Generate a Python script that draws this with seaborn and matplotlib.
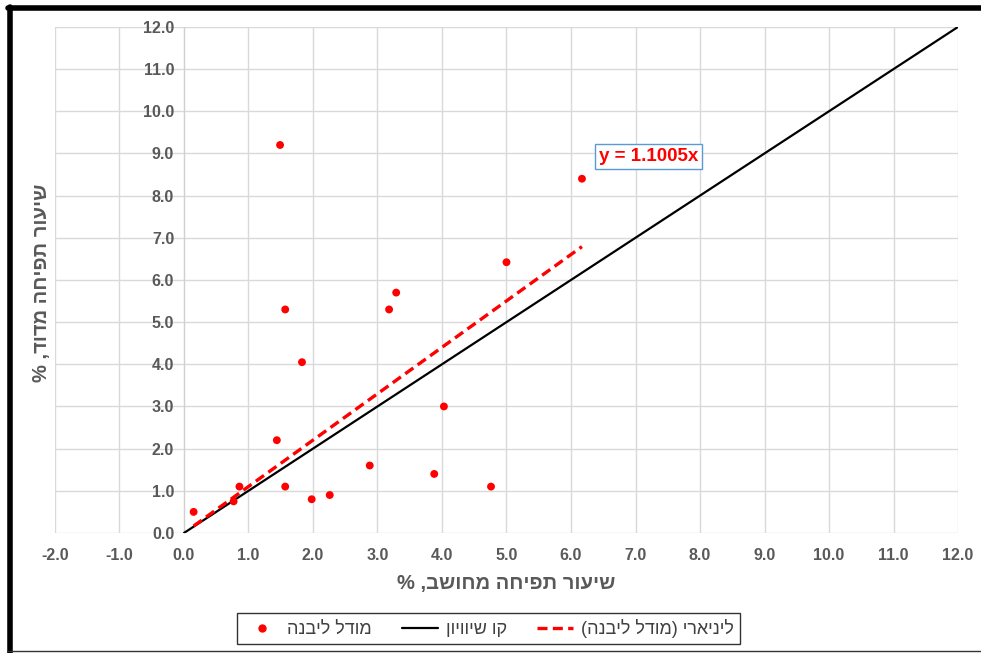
import numpy as np
import pandas as pd
import seaborn as sns
import matplotlib.pyplot as plt
from matplotlib.lines import Line2D

# -------------------------------
# Data
# -------------------------------
calc_rate = [0.15, 0.77, 0.86, 1.44, 1.49, 1.57, 1.57, 1.83, 1.98, 2.26,
             2.88, 3.18, 3.29, 3.88, 4.03, 4.76, 5.00, 6.17]
meas_rate = [0.50, 0.75, 1.10, 2.20, 9.20, 5.30, 1.10, 4.05, 0.80, 0.90,
             1.60, 5.30, 5.70, 1.40, 3.00, 1.10, 6.42, 8.40]
slope = 1.1005
equality_x = [0.0, 12.0]
x_ticks = np.arange(-2, 13, 1)
y_ticks = np.arange(0, 13, 1)

# Hebrew strings written in visual (left-to-right) order
x_title = "% ,בשוחמ החיפת רועיש"
y_title = "% ,דודמ החיפת רועיש"
lbl_points = "הנביל לדומ"
lbl_equal = "ןויוויש וק"
lbl_trend = "(הנביל לדומ) יראיניל"

df = pd.DataFrame({"x": calc_rate, "y": meas_rate})
trend_x = np.array([min(calc_rate), max(calc_rate)])

# -------------------------------
# Figure
# -------------------------------
sns.set_style("white")
plt.rcParams["font.family"] = ["Liberation Sans", "DejaVu Sans"]

fig = plt.figure(figsize=(9.81, 6.53), dpi=100)
ax = fig.add_axes([0.056, 0.1838, 0.9206, 0.775])

ax.plot(equality_x, equality_x, color="black", lw=1.6, zorder=3)
ax.plot(trend_x, slope * trend_x, color="#FF0000", lw=2.4,
        ls=(0, (3, 1.6)), zorder=3)
sns.scatterplot(data=df, x="x", y="y", ax=ax, color="#FF0000", s=32,
                edgecolor="none", zorder=4, legend=False)

ax.set_xlim(-2, 12)
ax.set_ylim(0, 12)
ax.set_xticks(x_ticks)
ax.set_yticks(y_ticks)
ax.set_xticklabels([f"{v:.1f}" for v in x_ticks])
ax.set_yticklabels([f"{v:.1f}" for v in y_ticks])
ax.grid(True, color="#D9D9D9", lw=1)
ax.set_axisbelow(True)

for s in ["top", "right", "bottom"]:
    ax.spines[s].set_visible(False)
ax.spines["left"].set_position(("data", 0))
ax.spines["left"].set_color("#D0D0D0")
ax.tick_params(axis="both", length=0, labelsize=11.5, labelcolor="#595959")
ax.tick_params(axis="x", pad=11)
ax.tick_params(axis="y", pad=7)
for t in ax.get_xticklabels() + ax.get_yticklabels():
    t.set_fontweight("bold")

ax.set_xlabel("")
ax.set_ylabel("")
fig.text(0.516, 0.107, x_title, ha="center", va="center", fontsize=14.5,
         fontweight="bold", color="#595959")
fig.text(0.042, 0.567, y_title, ha="center", va="center", fontsize=14.5,
         fontweight="bold", color="#595959", rotation=90)

# equation label
ax.text(6.43, 8.92, "y = 1.1005x", color="#FF0000", fontsize=13.5,
        fontweight="bold", ha="left", va="center", zorder=5,
        bbox=dict(boxstyle="square,pad=0.22", fc="white", ec="#5B9BD5", lw=1))

# legend
handles = [
    Line2D([], [], marker="o", color="#FF0000", ls="none", markersize=5),
    Line2D([], [], color="black", lw=1.6),
    Line2D([], [], color="#FF0000", lw=2.4, ls=(0, (3, 1.6))),
]
leg = fig.legend(handles, [lbl_points, lbl_equal, lbl_trend], ncol=3,
                 loc="center", bbox_to_anchor=(0.498, 0.0375), frameon=True,
                 fancybox=False, edgecolor="black", fontsize=13,
                 columnspacing=1.7, handlelength=2.0, handletextpad=0.4,
                 borderpad=0.35)
leg.get_frame().set_linewidth(1)
for t in leg.get_texts():
    t.set_color("#404040")

# outer frame (thick top/left, thin bottom)
fig.add_artist(Line2D([0.008, 1.0], [0.988, 0.988], color="black", lw=4,
                      transform=fig.transFigure))
fig.add_artist(Line2D([0.0105, 0.0105], [0.0, 0.99], color="black", lw=4,
                      transform=fig.transFigure))
fig.add_artist(Line2D([0.008, 1.0], [0.003, 0.003], color="#333333", lw=1,
                      transform=fig.transFigure))

fig.savefig("out.png", dpi=100)
